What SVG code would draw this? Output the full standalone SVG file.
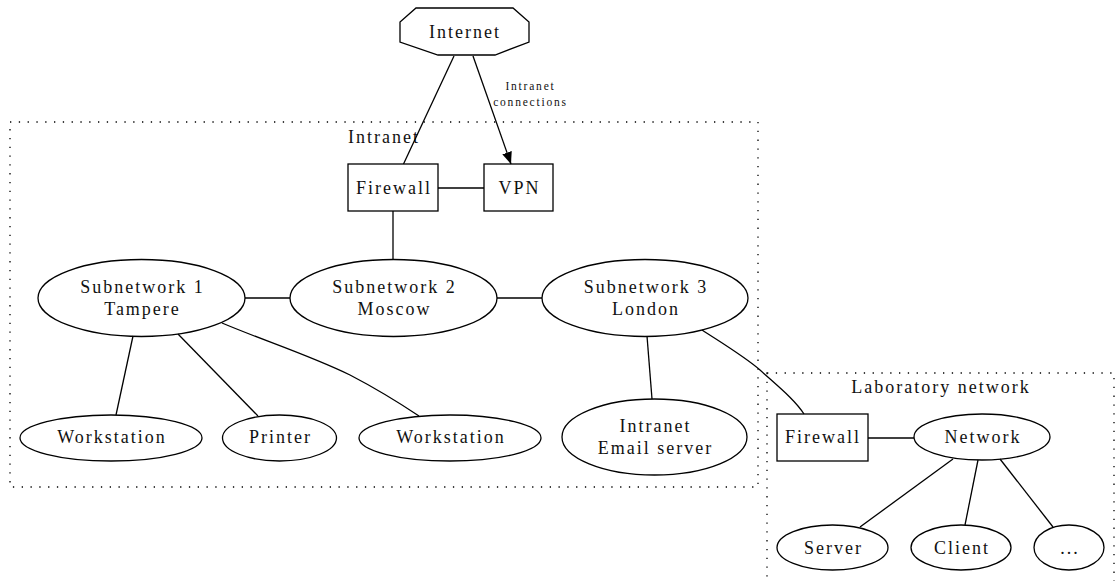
<svg xmlns="http://www.w3.org/2000/svg" width="1115" height="581" viewBox="0 0 1115 581">
  <style>
    .shape { fill: none; stroke: #000; stroke-width: 1.3; }
    .edge { fill: none; stroke: #000; stroke-width: 1.3; }
    .cluster { fill: none; stroke: #000; stroke-width: 1.3; stroke-dasharray: 1.3 7.5; }
    text { font-family: "Liberation Serif", "Times New Roman", serif; font-size: 18px; letter-spacing: 2px; fill: #111; text-anchor: middle; }
    .small { font-size: 11.5px; letter-spacing: 1.8px; }
  </style>
  <defs>
    <marker id="arrow" viewBox="0 0 12 10" refX="12" refY="5" markerUnits="userSpaceOnUse" markerWidth="12" markerHeight="10" orient="auto">
      <path d="M0,0 L12,5 L0,10 Z" fill="#000"/>
    </marker>
  </defs>

  <!-- clusters -->
  <g id="cluster-intranet">
    <rect class="cluster" x="10" y="122" width="748" height="365"/>
    <text x="384" y="143">Intranet</text>
  </g>
  <g id="cluster-lab">
    <rect class="cluster" x="767" y="373" width="347" height="230"/>
    <text x="941" y="393">Laboratory network</text>
  </g>

  <!-- connectors -->
  <g id="edges">
    <path class="edge" d="M454,56 L403.5,164"/>
    <path class="edge" d="M473,56 L511,164" marker-end="url(#arrow)"/>
    <path class="edge" d="M438,188 L484,188"/>
    <path class="edge" d="M393,211 L393,260"/>
    <path class="edge" d="M245,298 L290,298"/>
    <path class="edge" d="M497,298 L542,298"/>
    <path class="edge" d="M133,336 L116,415"/>
    <path class="edge" d="M178,334 L258,416"/>
    <path class="edge" d="M222,323 C262,340 309,355 350,375 C375,388 398,402 419,416"/>
    <path class="edge" d="M647,336 L652,399"/>
    <path class="edge" d="M702,330 C725,345 745,357 760,370 C780,388 795,400 804,414"/>
    <path class="edge" d="M868,438 L914,438"/>
    <path class="edge" d="M953,459 L860,527"/>
    <path class="edge" d="M978,460 L965,525"/>
    <path class="edge" d="M1000,459 L1053,527"/>
    <text class="small" x="530.5" y="90">Intranet</text>
    <text class="small" x="530.5" y="106">connections</text>
  </g>

  <!-- nodes -->
  <g id="internet">
    <polygon class="shape" points="416,8 513,8 529,22 529,42 495,55 438,55 400,42 400,22"/>
    <text x="465" y="38">Internet</text>
  </g>
  <g id="firewall">
    <rect class="shape" x="348" y="164" width="90" height="47"/>
    <text x="394" y="194">Firewall</text>
  </g>
  <g id="vpn">
    <rect class="shape" x="484" y="164" width="69" height="47"/>
    <text x="519.5" y="194">VPN</text>
  </g>
  <g id="subnet1">
    <ellipse class="shape" cx="141.5" cy="298" rx="103.5" ry="38.5"/>
    <text x="142.5" y="293">Subnetwork 1</text>
    <text x="142.5" y="315">Tampere</text>
  </g>
  <g id="subnet2">
    <ellipse class="shape" cx="393.5" cy="298" rx="103.5" ry="38.5"/>
    <text x="394.5" y="293">Subnetwork 2</text>
    <text x="394.5" y="315">Moscow</text>
  </g>
  <g id="subnet3">
    <ellipse class="shape" cx="645" cy="298" rx="103" ry="38.5"/>
    <text x="646" y="293">Subnetwork 3</text>
    <text x="646" y="315">London</text>
  </g>
  <g id="workstation1">
    <ellipse class="shape" cx="111" cy="438" rx="91" ry="23"/>
    <text x="112" y="443">Workstation</text>
  </g>
  <g id="printer">
    <ellipse class="shape" cx="279.5" cy="438" rx="57" ry="23"/>
    <text x="280.5" y="443">Printer</text>
  </g>
  <g id="workstation2">
    <ellipse class="shape" cx="450" cy="438" rx="91" ry="23"/>
    <text x="451" y="443">Workstation</text>
  </g>
  <g id="email">
    <ellipse class="shape" cx="654.5" cy="437" rx="92.5" ry="38"/>
    <text x="655.5" y="432">Intranet</text>
    <text x="655.5" y="454">Email server</text>
  </g>
  <g id="lab-firewall">
    <rect class="shape" x="777" y="414" width="91" height="47"/>
    <text x="823" y="443">Firewall</text>
  </g>
  <g id="network">
    <ellipse class="shape" cx="982" cy="437" rx="68" ry="23"/>
    <text x="983" y="443">Network</text>
  </g>
  <g id="server">
    <ellipse class="shape" cx="832.5" cy="547.5" rx="55.5" ry="22.5"/>
    <text x="833.5" y="554">Server</text>
  </g>
  <g id="client">
    <ellipse class="shape" cx="961" cy="547.5" rx="50" ry="22.5"/>
    <text x="962" y="554">Client</text>
  </g>
  <g id="more">
    <ellipse class="shape" cx="1069" cy="547.5" rx="35" ry="22.5"/>
    <text x="1070" y="554">...</text>
  </g>
</svg>
